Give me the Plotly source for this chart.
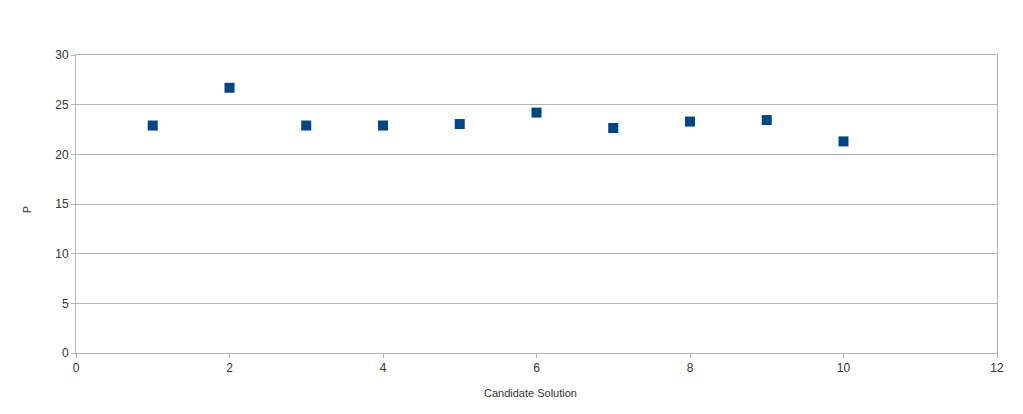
import plotly.graph_objects as go

# candidate solutions and their P values
candidates = [1, 2, 3, 4, 5, 6, 7, 8, 9, 10]
p_values = [22.9, 26.7, 22.9, 22.9, 23.05, 24.2, 22.65, 23.3, 23.45, 21.3]

W, H = 1023, 414
grid = "#b3b3b3"
font = dict(family="Liberation Sans, Arial, sans-serif", size=12, color="#333333")

fig = go.Figure()
fig.add_trace(go.Scatter(
    x=candidates,
    y=p_values,
    mode="markers",
    marker=dict(symbol="square", size=10, color="#004586"),
    showlegend=False,
))

fig.update_xaxes(
    range=[0, 12], dtick=2, tick0=0,
    showgrid=False, zeroline=False,
    showline=True, linecolor=grid, linewidth=1, mirror=True,
    ticks="outside", ticklen=4, tickcolor=grid,
    tickfont=font,
)
fig.update_yaxes(
    range=[0, 30], dtick=5, tick0=0,
    showgrid=True, gridcolor=grid, gridwidth=1, zeroline=False,
    showline=True, linecolor=grid, linewidth=1, mirror=True,
    ticks="outside", ticklen=4, tickcolor=grid,
    tickfont=font,
)

# the page body adds an 8px offset, so the margins are shifted to compensate
fig.update_layout(
    width=W, height=H,
    margin=dict(l=68, r=34, t=47, b=69, pad=0),
    plot_bgcolor="white",
    paper_bgcolor="white",
    font=font,
    annotations=[
        dict(text="Candidate Solution", xref="paper", yref="paper",
             x=0.493, y=-0.134, xanchor="center", yanchor="middle",
             showarrow=False, font=dict(size=11, color="#333333")),
        dict(text="P", xref="paper", yref="paper",
             x=-0.053, y=0.48, xanchor="center", yanchor="middle",
             textangle=-90, showarrow=False,
             font=dict(size=11, color="#333333")),
    ],
)

fig.write_html("out.html")
